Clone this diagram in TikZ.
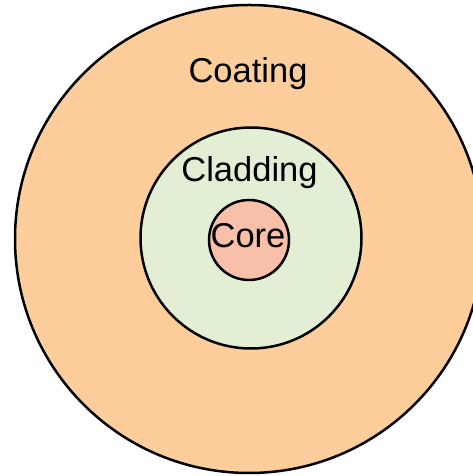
\documentclass[tikz,border=0pt]{standalone}
\usepackage{fontspec}
\setmainfont{Liberation Sans}
\usetikzlibrary{positioning}

\definecolor{coatingfill}{RGB}{253,206,155}
\definecolor{claddingfill}{RGB}{226,239,212}
\definecolor{corefill}{RGB}{248,191,169}

\tikzset{
    layer/.style={
        circle,
        draw=black,
        line width=2.5pt,
        inner sep=0pt
    },
    layername/.style={
        anchor=base,
        inner sep=0pt,
        font=\fontsize{34.5}{41}\selectfont
    }
}

\begin{document}
\begin{tikzpicture}[x=1pt, y=1pt]

    % Marco de la imagen
    \useasboundingbox (0,0) rectangle (473,476);
    \clip (0,0) rectangle (473,476);

    % Capas de la fibra
    \node[layer, fill=coatingfill,  minimum size=468pt] (coating)  at (249,237) {};
    \node[layer, fill=claddingfill, minimum size=221pt] (cladding) at (251,238) {};
    \node[layer, fill=corefill,     minimum size=80pt]  (core)     at (249,236) {};

    % Nombres
    \node[layername] (coatingname)  at (248,393)   {Coating};
    \node[layername] (claddingname) at (249.5,294) {Cladding};
    \node[layername] (corename)     at (248,228)   {Core};

\end{tikzpicture}
\end{document}
